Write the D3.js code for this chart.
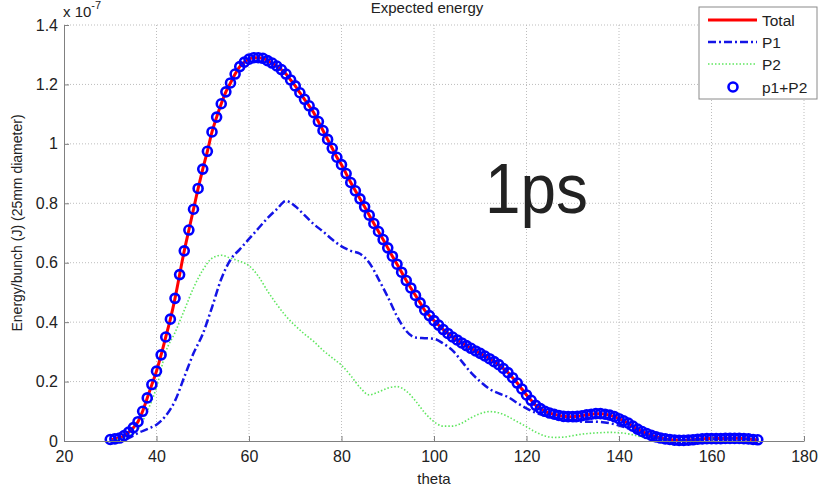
<!DOCTYPE html>
<html>
<head>
<meta charset="utf-8">
<script src="https://cdn.jsdelivr.net/npm/d3@7"></script>
<style>
body { margin: 0; background: #fff; }
text { font-family: "Liberation Sans", Arial, sans-serif; fill: #222; }
</style>
</head>
<body>
<script>
// theta grid of the curves
var totalTheta = d3.range(30, 171, 1);
var partTheta = d3.range(30, 171, 2);
var p2Theta = d3.range(30, 151, 2);

// values in units of 1e-7 J
var total = [
    0.005,0.007,0.010,0.018,0.030,0.045,0.065,0.100,0.145,0.190,
    0.235,0.290,0.350,0.410,0.480,0.560,0.640,0.710,0.780,0.850,
    0.915,0.975,1.040,1.090,1.135,1.175,1.205,1.235,1.260,1.275,
    1.285,1.290,1.290,1.288,1.280,1.272,1.262,1.250,1.235,1.215,
    1.195,1.172,1.150,1.128,1.105,1.075,1.045,1.015,0.985,0.955,
    0.930,0.900,0.870,0.842,0.815,0.788,0.760,0.732,0.705,0.678,
    0.650,0.622,0.595,0.568,0.540,0.515,0.490,0.465,0.440,0.422,
    0.405,0.390,0.375,0.362,0.350,0.340,0.330,0.321,0.312,0.303,
    0.295,0.286,0.277,0.267,0.257,0.244,0.230,0.213,0.195,0.175,
    0.155,0.137,0.120,0.109,0.100,0.094,0.090,0.086,0.083,0.082,
    0.082,0.083,0.085,0.088,0.090,0.092,0.092,0.090,0.087,0.082,
    0.075,0.068,0.060,0.050,0.040,0.032,0.025,0.019,0.014,0.010,
    0.007,0.005,0.003,0.002,0.002,0.003,0.004,0.006,0.007,0.008,
    0.008,0.008,0.008,0.009,0.009,0.009,0.009,0.008,0.007,0.005,
    0.004];

var p1 = [
    0.000,0.002,0.010,0.027,0.040,0.055,0.085,0.135,0.215,0.295,
    0.360,0.450,0.545,0.610,0.645,0.680,0.715,0.750,0.780,0.808,
    0.790,0.760,0.730,0.705,0.678,0.655,0.640,0.630,0.600,0.545,
    0.485,0.420,0.370,0.348,0.346,0.344,0.328,0.305,0.268,0.230,
    0.200,0.175,0.160,0.148,0.128,0.110,0.095,0.085,0.078,0.072,
    0.068,0.065,0.065,0.064,0.060,0.052,0.042,0.030,0.020,0.012,
    0.006,0.003,0.002,0.004,0.006,0.007,0.008,0.008,0.008,0.007,
    0.004];

var p2 = [
    0.003,0.007,0.018,0.040,0.100,0.180,0.300,0.365,0.440,0.515,
    0.575,0.615,0.625,0.615,0.605,0.590,0.555,0.505,0.460,0.420,
    0.388,0.360,0.335,0.305,0.280,0.255,0.220,0.180,0.155,0.165,
    0.178,0.183,0.168,0.135,0.095,0.065,0.050,0.050,0.060,0.078,
    0.092,0.099,0.095,0.082,0.065,0.048,0.030,0.017,0.012,0.013,
    0.018,0.023,0.026,0.028,0.029,0.028,0.024,0.017,0.009,0.003,
    0.000];

var xTicks = [20, 40, 60, 80, 100, 120, 140, 160, 180];
var yTicks = [0, 0.2, 0.4, 0.6, 0.8, 1, 1.2, 1.4];
var legendNames = ["Total", "P1", "P2", "p1+P2"];

var margin = {top: 25, right: 23, bottom: 54, left: 64};
var width = 827 - margin.left - margin.right;
var height = 495 - margin.top - margin.bottom;

var x = d3.scaleLinear().domain([20, 180]).range([0, width]);
var y = d3.scaleLinear().domain([0, 1.4]).range([height, 0]);

var root = d3.select("body").append("svg")
    .attr("width", 827)
    .attr("height", 495);

root.append("rect").attr("width", 827).attr("height", 495).attr("fill", "#fff");

var svg = root.append("g")
    .attr("transform", "translate(" + margin.left + "," + margin.top + ")");

// dotted grid
var grid = svg.append("g").attr("stroke", "#bdbdbd").attr("stroke-dasharray", "1,2");
grid.selectAll(".gx").data(xTicks.slice(1)).enter().append("line")
    .attr("x1", d => x(d)).attr("x2", d => x(d))
    .attr("y1", 0).attr("y2", height);
grid.selectAll(".gy").data(yTicks.slice(1)).enter().append("line")
    .attr("x1", 0).attr("x2", width)
    .attr("y1", d => y(d)).attr("y2", d => y(d));

var line = d3.line()
    .x(d => x(d[0]))
    .y(d => y(d[1]))
    .curve(d3.curveMonotoneX);

var totalData = d3.zip(totalTheta, total);

svg.append("path")
    .datum(totalData)
    .attr("d", line)
    .attr("fill", "none")
    .attr("stroke", "#ff0000")
    .attr("stroke-width", 3);

svg.append("path")
    .datum(d3.zip(partTheta, p1))
    .attr("d", line)
    .attr("fill", "none")
    .attr("stroke", "#1414e6")
    .attr("stroke-width", 2.5)
    .attr("stroke-dasharray", "8,3,2,3");

svg.append("path")
    .datum(d3.zip(p2Theta, p2))
    .attr("d", line)
    .attr("fill", "none")
    .attr("stroke", "#5fe65f")
    .attr("stroke-width", 1.6)
    .attr("stroke-dasharray", "1.5,2");

svg.append("g").selectAll("circle")
    .data(totalData)
    .enter().append("circle")
    .attr("cx", d => x(d[0]))
    .attr("cy", d => y(d[1]))
    .attr("r", 4.5)
    .attr("fill", "none")
    .attr("stroke", "#0000ff")
    .attr("stroke-width", 2.6);

// axes (ticks point inward)
var xAxis = svg.append("g")
    .attr("transform", "translate(0," + height + ")")
    .call(d3.axisBottom(x).tickValues(xTicks).tickSizeInner(-5).tickSizeOuter(0).tickPadding(10));
var yAxis = svg.append("g")
    .call(d3.axisLeft(y).tickValues(yTicks).tickFormat(d => d).tickSizeInner(-5).tickSizeOuter(0).tickPadding(6));

[xAxis, yAxis].forEach(function(a) {
    a.select(".domain").attr("stroke", "#808080");
    a.selectAll(".tick line").attr("stroke", "#808080");
    a.selectAll(".tick text").attr("font-size", 16).attr("fill", "#222")
        .attr("font-family", "\"Liberation Sans\", Arial, sans-serif");
});

// titles
root.append("text")
    .attr("x", 427).attr("y", 13)
    .attr("text-anchor", "middle")
    .attr("font-size", 15)
    .text("Expected energy");

root.append("text")
    .attr("x", 434).attr("y", 484)
    .attr("text-anchor", "middle")
    .attr("font-size", 15)
    .text("theta");

root.append("text")
    .attr("transform", "translate(22,223) rotate(-90)")
    .attr("text-anchor", "middle")
    .attr("font-size", 14)
    .text("Energy/bunch (J) (25mm diameter)");

var expo = root.append("text")
    .attr("x", 63).attr("y", 17)
    .attr("font-size", 15);
expo.append("tspan").text("x 10");
expo.append("tspan").attr("dy", -8).attr("font-size", 11).text("-7");

root.append("text")
    .attr("x", 485).attr("y", 213)
    .attr("font-family", "\"Open Sans\", sans-serif")
    .attr("font-size", 70)
    .attr("textLength", 103)
    .attr("lengthAdjust", "spacingAndGlyphs")
    .attr("fill", "#000")
    .text("1ps");

// legend
var legend = root.append("g").attr("transform", "translate(699,7)");
legend.append("rect")
    .attr("width", 118).attr("height", 92)
    .attr("fill", "#fff")
    .attr("stroke", "#8a8a8a");

var legendY = [13, 35, 57, 80];
var legendStyle = [
    {stroke: "#ff0000", width: 3, dash: null},
    {stroke: "#1414e6", width: 2.5, dash: "8,3,2,3"},
    {stroke: "#5fe65f", width: 1.6, dash: "1.5,2"}
];
legendStyle.forEach(function(s, i) {
    legend.append("line")
        .attr("x1", 9).attr("x2", 58)
        .attr("y1", legendY[i]).attr("y2", legendY[i])
        .attr("stroke", s.stroke)
        .attr("stroke-width", s.width)
        .attr("stroke-dasharray", s.dash);
});
legend.append("circle")
    .attr("cx", 34).attr("cy", legendY[3])
    .attr("r", 4.5)
    .attr("fill", "none")
    .attr("stroke", "#0000ff")
    .attr("stroke-width", 2.6);

legend.selectAll(".lab").data(legendNames).enter().append("text")
    .attr("x", 63)
    .attr("y", (d, i) => legendY[i] + 5.5)
    .attr("font-size", 15.5)
    .text(d => d);
</script>
</body>
</html>
